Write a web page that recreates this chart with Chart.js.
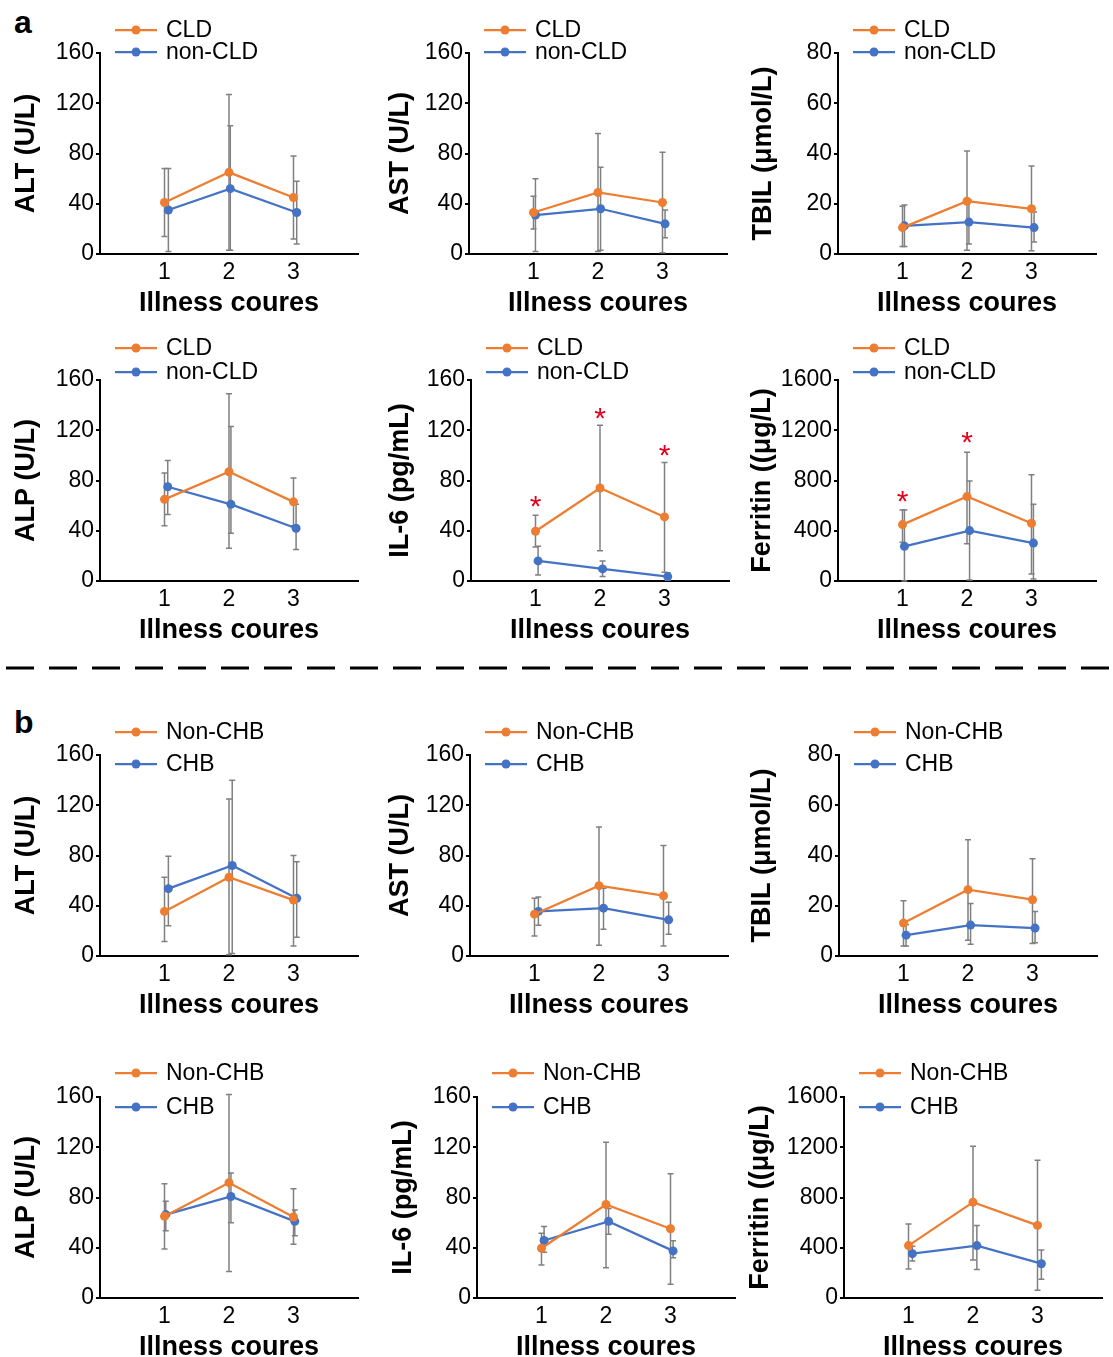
<!DOCTYPE html>
<html>
<head>
<meta charset="utf-8">
<script src="https://cdn.jsdelivr.net/npm/chart.js@4.4.0/dist/chart.umd.min.js"></script>
<style>
  html, body { margin: 0; padding: 0; background: #fff; overflow: hidden; }
  #page { position: relative; width: 1113px; height: 1357px; }
  #page canvas { position: absolute; }
  .tag { position: absolute; font: bold 32px Arial, "Liberation Sans", sans-serif; line-height: 32px; color: #000; }
</style>
</head>
<body>
<div id="page">
  <div class="tag" style="left:14px;top:6px">a</div>
  <svg style="position:absolute;left:0;top:660px" width="1113" height="16">
    <line x1="6" y1="8" x2="1113" y2="8" stroke="#000" stroke-width="3" stroke-dasharray="28 15"></line>
  </svg>
  <div class="tag" style="left:14px;top:706px">b</div>
</div>
<script>
// ---- categories / labels ----
const courses = [1, 2, 3];
const courseLabels = ['1', '2', '3'];
const namesA = ['CLD', 'non-CLD'];
const namesB = ['Non-CHB', 'CHB'];

// ---- panel a: CLD vs non-CLD (mean, [low, high] error ends) ----
const altCld = [41, 65, 45];
const altCldErr = [[14, 68], [3, 127], [12, 78]];
const altNon = [35, 52, 33];
const altNonErr = [[2, 68], [3, 102], [8, 58]];
const altNonX = [1.06, 2.02, 3.05];

const astCld = [33, 49, 41];
const astCldErr = [[20, 46], [2, 96], [1, 81]];
const astNon = [31, 36, 24];
const astNonErr = [[2, 60], [3, 69], [13, 35]];
const astNonX = [1.03, 2.04, 3.04];

const tbilCld = [10.5, 21, 18];
const tbilCldErr = [[3, 19], [1.5, 41], [1.3, 35]];
const tbilNon = [11.2, 12.7, 10.5];
const tbilNonErr = [[3, 19.5], [4, 21.5], [4.8, 16.7]];
const tbilNonX = [1.03, 2.03, 3.04];

const alpCld = [65, 87, 63];
const alpCldErr = [[44, 86], [26, 149], [44, 82]];
const alpNon = [75, 61, 42];
const alpNonErr = [[53, 96], [38, 123], [25, 61]];
const alpNonX = [1.05, 2.03, 3.04];

const il6Cld = [39.6, 74, 51];
const il6CldErr = [[27, 52.4], [24, 124], [7, 94.4]];
const il6Non = [16, 9.6, 3.5];
const il6NonErr = [[4.8, 27.6], [3.5, 16], [0.5, 6.5]];
const il6NonX = [1.04, 2.04, 3.05];
const il6StarX = [1, 2, 3];
const il6StarY = [65, 135, 106];

const ferCld = [449, 672, 460];
const ferCldErr = [[308, 565], [297, 1025], [56, 845]];
const ferNon = [276, 401, 302];
const ferNonErr = [[0, 565], [8, 797], [16, 610]];
const ferNonX = [1.03, 2.04, 3.03];
const ferStarX = [1, 2];
const ferStarY = [696, 1164];

// ---- panel b: Non-CHB vs CHB ----
const altNonChb = [35.5, 62.7, 44.5];
const altNonChbErr = [[11.5, 62.7], [1, 125], [8, 80]];
const altChb = [53.6, 72, 46];
const altChbErr = [[24, 79.5], [2, 140], [15, 75]];
const altChbX = [1.06, 2.05, 3.05];

const astNonChb = [33.3, 56, 48];
const astNonChbErr = [[16, 46], [8.5, 102.7], [8, 88]];
const astChb = [35.5, 38.1, 28.8];
const astChbErr = [[24.5, 47], [21.3, 54], [17.3, 42.7]];
const astChbX = [1.06, 2.07, 3.08];

const tbilNonChb = [13.1, 26.4, 22.4];
const tbilNonChbErr = [[4, 22], [6.3, 46.3], [5, 38.7]];
const tbilChb = [8.3, 12.3, 11.1];
const tbilChbErr = [[4, 12.5], [4.7, 20.9], [5.3, 17.7]];
const tbilChbX = [1.04, 2.04, 3.04];

const alpNonChb = [65, 91.8, 64.5];
const alpNonChbErr = [[39, 91], [21, 162], [42.8, 87]];
const alpChb = [66.4, 80.8, 61];
const alpChbErr = [[53.5, 77], [60, 99.5], [49.5, 70]];
const alpChbX = [1.02, 2.03, 3.02];

const il6NonChb = [39.6, 74.4, 55.1];
const il6NonChbErr = [[26.2, 51.6], [24.1, 123.9], [11, 99]];
const il6Chb = [45.8, 61, 37.5];
const il6ChbErr = [[36.4, 57], [50.8, 71.2], [32, 45.5]];
const il6ChbX = [1.04, 2.04, 3.04];

const ferNonChb = [417, 763, 578];
const ferNonChbErr = [[230, 589], [302, 1207], [62, 1097]];
const ferChb = [353, 417, 273];
const ferChbErr = [[294, 412], [227, 578], [150, 383]];
const ferChbX = [1.06, 2.06, 3.06];

const ORANGE = '#ED7D31';
const BLUE = '#4472C4';
const FONT = 'Arial, "Liberation Sans", sans-serif';

Chart.defaults.font.family = FONT;
Chart.defaults.color = '#000';

// error bars drawn behind the lines
const errorBars = {
  id: 'errorBars',
  beforeDatasetsDraw(chart) {
    const { ctx, scales: { x, y } } = chart;
    ctx.save();
    ctx.strokeStyle = '#808080';
    ctx.lineWidth = 1.5;
    chart.data.datasets.forEach(ds => {
      ds.data.forEach((p, i) => {
        const [lo, hi] = ds.err[i];
        const px = x.getPixelForValue(p.x);
        const yl = y.getPixelForValue(Math.max(lo, 0));
        const yh = y.getPixelForValue(hi);
        ctx.beginPath();
        ctx.moveTo(px, yl); ctx.lineTo(px, yh);
        ctx.moveTo(px - 3, yh); ctx.lineTo(px + 3, yh);
        ctx.moveTo(px - 3, yl); ctx.lineTo(px + 3, yl);
        ctx.stroke();
      });
    });
    ctx.restore();
  }
};

// stacked legend in the top-left corner
const sideLegend = {
  id: 'sideLegend',
  afterDraw(chart, args, opts) {
    const { ctx, chartArea } = chart;
    ctx.save();
    chart.data.datasets.forEach((ds, i) => {
      const y = chartArea.top + opts.rows[i];
      const x0 = chartArea.left + 15, x1 = chartArea.left + 57;
      ctx.strokeStyle = ds.borderColor;
      ctx.lineWidth = 2.25;
      ctx.beginPath(); ctx.moveTo(x0, y); ctx.lineTo(x1, y); ctx.stroke();
      ctx.fillStyle = ds.borderColor;
      ctx.beginPath(); ctx.arc((x0 + x1) / 2, y, 4.5, 0, Math.PI * 2); ctx.fill();
      ctx.fillStyle = '#000';
      ctx.font = '23px ' + FONT;
      ctx.textAlign = 'left';
      ctx.textBaseline = 'middle';
      ctx.fillText(ds.label, chartArea.left + 66, y + 1);
    });
    ctx.restore();
  }
};

// red significance asterisks
const sigStars = {
  id: 'sigStars',
  afterDatasetsDraw(chart, args, opts) {
    if (!opts.xs) return;
    const { ctx, scales: { x, y } } = chart;
    ctx.save();
    ctx.fillStyle = '#E3001B';
    ctx.font = '30px ' + FONT;
    ctx.textAlign = 'center';
    ctx.textBaseline = 'alphabetic';
    opts.xs.forEach((v, i) => {
      ctx.fillText('*', x.getPixelForValue(v), y.getPixelForValue(opts.ys[i]) + 17);
    });
    ctx.restore();
  }
};

Chart.register(errorBars, sideLegend, sigStars);

const panels = [
  { left: 0,   top: 0,    pad: 10, rows: [-23, -1], title: 'ALT (U/L)',        max: 160,  names: namesA, s1: altCld,  e1: altCldErr,  s2: altNon,  e2: altNonErr,  x2: altNonX },
  { left: 369, top: 0,    pad: 15, rows: [-23, -1], title: 'AST (U/L)',        max: 160,  names: namesA, s1: astCld,  e1: astCldErr,  s2: astNon,  e2: astNonErr,  x2: astNonX },
  { left: 738, top: 0,    pad: 9,  rows: [-23, -1], title: 'TBIL (μmol/L)',    max: 80,   names: namesA, s1: tbilCld, e1: tbilCldErr, s2: tbilNon, e2: tbilNonErr, x2: tbilNonX },
  { left: 0,   top: 327,  pad: 10, rows: [-32, -8], title: 'ALP (U/L)',        max: 160,  names: namesA, s1: alpCld,  e1: alpCldErr,  s2: alpNon,  e2: alpNonErr,  x2: alpNonX },
  { left: 371, top: 327,  pad: 13, rows: [-32, -8], title: 'IL-6 (pg/mL)',     max: 160,  names: namesA, s1: il6Cld,  e1: il6CldErr,  s2: il6Non,  e2: il6NonErr,  x2: il6NonX, sx: il6StarX, sy: il6StarY },
  { left: 738, top: 327,  pad: 8,  rows: [-32, -8], title: 'Ferritin ((μg/L)', max: 1600, names: namesA, s1: ferCld,  e1: ferCldErr,  s2: ferNon,  e2: ferNonErr,  x2: ferNonX, sx: ferStarX, sy: ferStarY },
  { left: 0,   top: 702,  pad: 10, rows: [-23, 9],  title: 'ALT (U/L)',        max: 160,  names: namesB, s1: altNonChb,  e1: altNonChbErr,  s2: altChb,  e2: altChbErr,  x2: altChbX },
  { left: 370, top: 702,  pad: 14, rows: [-23, 9],  title: 'AST (U/L)',        max: 160,  names: namesB, s1: astNonChb,  e1: astNonChbErr,  s2: astChb,  e2: astChbErr,  x2: astChbX },
  { left: 739, top: 702,  pad: 7,  rows: [-23, 9],  title: 'TBIL (μmol/L)',    max: 80,   names: namesB, s1: tbilNonChb, e1: tbilNonChbErr, s2: tbilChb, e2: tbilChbErr, x2: tbilChbX },
  { left: 0,   top: 1044, pad: 10, rows: [-24, 10], title: 'ALP (U/L)',        max: 160,  names: namesB, s1: alpNonChb,  e1: alpNonChbErr,  s2: alpChb,  e2: alpChbErr,  x2: alpChbX },
  { left: 377, top: 1044, pad: 10, rows: [-24, 10], title: 'IL-6 (pg/mL)',     max: 160,  names: namesB, s1: il6NonChb,  e1: il6NonChbErr,  s2: il6Chb,  e2: il6ChbErr,  x2: il6ChbX },
  { left: 744, top: 1044, pad: 0,  rows: [-24, 10], title: 'Ferritin ((μg/L)', max: 1600, names: namesB, s1: ferNonChb,  e1: ferNonChbErr,  s2: ferChb,  e2: ferChbErr,  x2: ferChbX }
];

function series(label, xs, ys, err, color) {
  return {
    label: label,
    data: ys.map((v, i) => ({ x: xs[i], y: v })),
    err: err,
    showLine: true,
    borderColor: color,
    backgroundColor: color,
    borderWidth: 2.25,
    pointRadius: 4.5,
    pointBorderWidth: 0,
    pointBackgroundColor: color
  };
}

const page = document.getElementById('page');

panels.forEach(p => {
  const canvas = document.createElement('canvas');
  canvas.width = 366;
  canvas.height = 320;
  canvas.style.left = p.left + 'px';
  canvas.style.top = p.top + 'px';
  page.appendChild(canvas);

  new Chart(canvas.getContext('2d'), {
    type: 'scatter',
    data: {
      datasets: [
        series(p.names[0], courses, p.s1, p.e1, ORANGE),
        series(p.names[1], p.x2, p.s2, p.e2, BLUE)
      ]
    },
    options: {
      responsive: false,
      animation: false,
      events: [],
      layout: { padding: { top: 53, right: 8, left: 0, bottom: 0 } },
      plugins: {
        legend: { display: false },
        tooltip: { enabled: false },
        sideLegend: { rows: p.rows },
        sigStars: p.sx ? { xs: p.sx, ys: p.sy } : {}
      },
      scales: {
        x: {
          type: 'linear', min: 0, max: 4,
          afterBuildTicks: s => { s.ticks = courses.map(v => ({ value: v })); },
          ticks: {
            callback: v => courseLabels[courses.indexOf(v)],
            color: '#000', font: { size: 23 }, padding: 5, autoSkip: false, maxRotation: 0
          },
          grid: { display: false, drawTicks: false },
          border: { display: true, color: '#000', width: 2 },
          title: { display: true, text: 'Illness coures', color: '#000', font: { size: 27, weight: 'bold' }, padding: { top: 0, bottom: 0 } },
          afterFit: s => { s.height = 66; }
        },
        y: {
          min: 0, max: p.max,
          ticks: { stepSize: p.max / 4, color: '#000', font: { size: 23 }, padding: 2, callback: v => String(v) },
          grid: { display: true, drawOnChartArea: false, drawTicks: true, tickLength: 4, color: '#000', lineWidth: 2 },
          border: { display: true, color: '#000', width: 2 },
          title: { display: true, text: p.title, color: '#000', font: { size: 27, weight: 'bold' }, padding: { top: p.pad, bottom: 0 } },
          afterFit: s => { s.width = 100; }
        }
      }
    }
  });
});
</script>
</body>
</html>
